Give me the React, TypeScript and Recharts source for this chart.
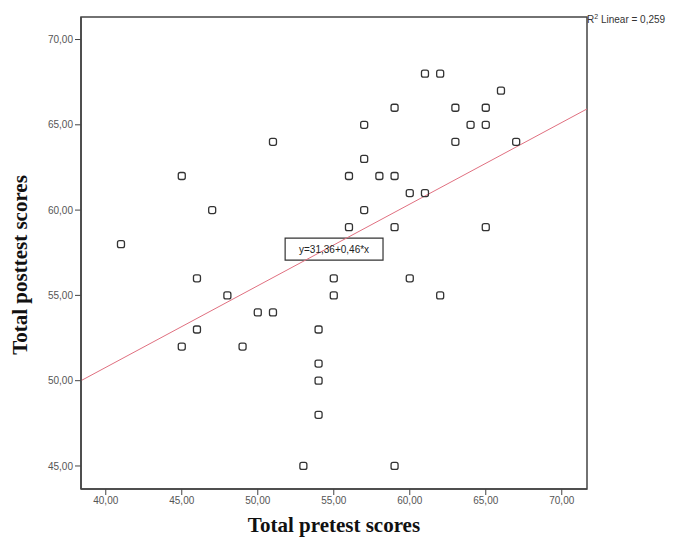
import {
  ScatterChart,
  Scatter,
  XAxis,
  YAxis,
  ReferenceLine,
  ReferenceArea,
  Label,
} from 'recharts'

// pretest / posttest pairs
const pretest = [41, 45, 47, 46, 48, 46, 45, 50, 51, 49, 51, 56, 56, 57, 57, 57, 58, 59, 59, 59, 61, 62, 60, 61, 63, 63, 64, 65, 65, 66, 67, 65, 60, 62, 55, 55, 54, 54, 54, 54, 53, 59]
const posttest = [58, 62, 60, 56, 55, 53, 52, 54, 54, 52, 64, 59, 62, 65, 63, 60, 62, 62, 66, 59, 68, 68, 61, 61, 66, 64, 65, 66, 65, 67, 64, 59, 56, 55, 56, 55, 53, 51, 50, 48, 45, 45]

const xTicks = [40, 45, 50, 55, 60, 65, 70]
const yTicks = [45, 50, 55, 60, 65, 70]
const xDomain = [38.37, 71.66]
const yDomain = [43.65, 71.32]

// fit line as drawn (ends at the frame)
const fitX = [38.37, 71.66]
const fitY = [50.0, 65.93]

// equation box corners
const boxX = [51.8, 58.24]
const boxY = [57.07, 58.36]

const points = pretest.map((x, i) => ({ x, y: posttest[i] }))

const fmt = (v: number) => v.toFixed(2).replace('.', ',')

const Marker = (props: any) => {
  const { cx, cy } = props
  if (cx == null || cy == null) return null
  return (
    <rect
      x={cx - 3.5}
      y={cy - 3.5}
      width={7}
      height={7}
      rx={2}
      fill="none"
      stroke="#333"
      strokeWidth={1.3}
    />
  )
}

const YTitle = () => (
  <text
    x={20}
    y={265}
    transform="rotate(-90 20 265)"
    textAnchor="middle"
    dominantBaseline="central"
    fontFamily="Liberation Serif, Times New Roman, serif"
    fontWeight="bold"
    fontSize={21}
    fill="#111"
  >
    Total posttest scores
  </text>
)

export default function App() {
  const tickStyle = { fontSize: 10, fill: '#555', fontFamily: 'Liberation Sans, Arial, sans-serif' }
  return (
    <div style={{ position: 'absolute', left: 0, top: 0, width: 679, height: 538, background: '#fff' }}>
      <ScatterChart width={679} height={538} margin={{ top: 17, right: 92, bottom: 0, left: 0 }}>
        <XAxis
          type="number"
          dataKey="x"
          domain={xDomain}
          ticks={xTicks}
          tickFormatter={fmt}
          allowDataOverflow
          height={49}
          axisLine={{ stroke: '#444', strokeWidth: 1.5 }}
          tickLine={{ stroke: '#444' }}
          tickSize={6}
          tick={tickStyle}
        >
          <Label
            value="Total pretest scores"
            position="insideBottom"
            offset={6}
            style={{ fontFamily: 'Liberation Serif, Times New Roman, serif', fontWeight: 'bold', fontSize: 21, fill: '#111' }}
          />
        </XAxis>
        <YAxis
          type="number"
          dataKey="y"
          domain={yDomain}
          ticks={yTicks}
          tickFormatter={fmt}
          allowDataOverflow
          width={81}
          axisLine={{ stroke: '#444', strokeWidth: 1.5 }}
          tickLine={{ stroke: '#444' }}
          tickSize={6}
          tick={tickStyle}
        >
          <Label content={<YTitle />} />
        </YAxis>
        <ReferenceArea
          x1={xDomain[0]}
          x2={xDomain[1]}
          y1={yDomain[0]}
          y2={yDomain[1]}
          fill="none"
          stroke="#444"
          strokeWidth={1.5}
          ifOverflow="visible"
        />
        <ReferenceLine
          segment={[
            { x: fitX[0], y: fitY[0] },
            { x: fitX[1], y: fitY[1] },
          ]}
          stroke="#e07080"
          strokeWidth={1}
        />
        <Scatter data={points} shape={<Marker />} isAnimationActive={false} />
        <ReferenceArea
          x1={boxX[0]}
          x2={boxX[1]}
          y1={boxY[0]}
          y2={boxY[1]}
          fill="#fff"
          fillOpacity={1}
          stroke="#333"
          strokeWidth={1.2}
          label={{
            value: 'y=31,36+0,46*x',
            position: 'center',
            style: { fontSize: 10, fill: '#222', fontFamily: 'Liberation Sans, Arial, sans-serif' },
          }}
        />
      </ScatterChart>
      <div
        style={{
          position: 'absolute',
          left: 587,
          top: 13,
          fontSize: 10,
          color: '#333',
          fontFamily: 'Liberation Sans, Arial, sans-serif',
          whiteSpace: 'nowrap',
        }}
      >
        R<sup style={{ fontSize: 7 }}>2</sup> Linear = 0,259
      </div>
    </div>
  )
}
